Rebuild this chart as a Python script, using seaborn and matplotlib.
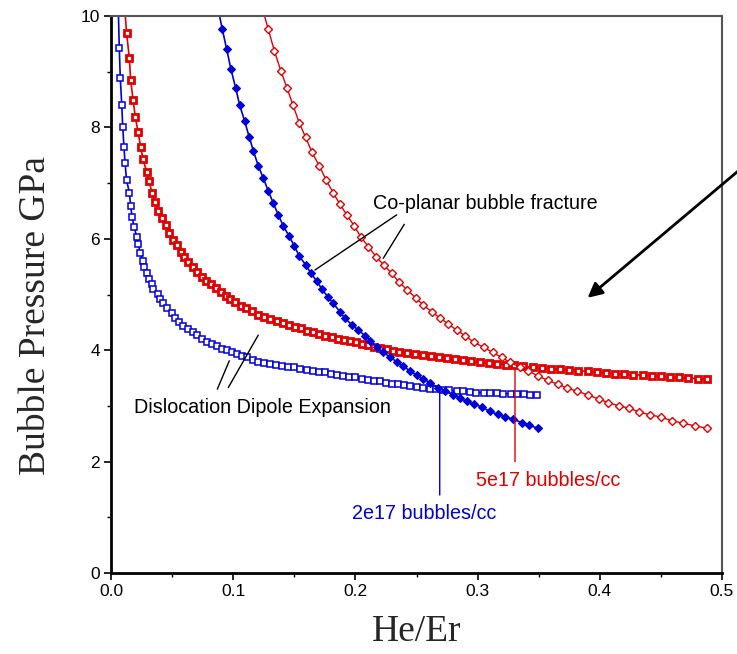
import matplotlib
matplotlib.use("Agg")
import matplotlib.pyplot as plt
import seaborn as sns
import pandas as pd
from matplotlib.ticker import MultipleLocator

# ---- data ----
# Dislocation dipole expansion, 2e17 bubbles/cc (blue open squares)
dd2_x = [0.0060, 0.0068, 0.0076, 0.0088, 0.0096, 0.0106, 0.0115, 0.0127, 0.0150, 0.0161,
         0.0172, 0.0188, 0.0210, 0.0221, 0.0240, 0.0259, 0.0273, 0.0292, 0.0311, 0.0333,
         0.0346, 0.0382, 0.0401, 0.0423, 0.0456, 0.0497, 0.0526, 0.0559, 0.0592, 0.0633,
         0.0669, 0.0701, 0.0742, 0.0783, 0.0824, 0.0865, 0.0906, 0.0947, 0.0988, 0.1029,
         0.1070, 0.1110, 0.1164, 0.1205,
         0.125, 0.130, 0.135, 0.140, 0.145, 0.150, 0.155, 0.160, 0.165, 0.170,
         0.175, 0.180, 0.185, 0.190, 0.195, 0.200, 0.205, 0.210, 0.215, 0.220,
         0.225, 0.230, 0.235, 0.240, 0.245, 0.250, 0.255,
         0.261, 0.266, 0.272, 0.277, 0.283, 0.288, 0.294, 0.299, 0.305, 0.310,
         0.316, 0.321, 0.327, 0.332, 0.338, 0.343, 0.349]
dd2_y = [10.1, 9.42, 8.88, 8.41, 8.01, 7.65, 7.36, 7.06, 6.83, 6.59,
         6.40, 6.22, 6.04, 5.91, 5.75, 5.61, 5.50, 5.39, 5.28, 5.19,
         5.10, 5.01, 4.92, 4.85, 4.75, 4.66, 4.57, 4.51, 4.43, 4.38,
         4.32, 4.27, 4.21, 4.15, 4.12, 4.08, 4.03, 4.00, 3.96, 3.93,
         3.90, 3.87, 3.82, 3.79,
         3.77, 3.75, 3.74, 3.72, 3.70, 3.69, 3.67, 3.65, 3.63, 3.61,
         3.60, 3.58, 3.56, 3.54, 3.52, 3.51, 3.49, 3.47, 3.45, 3.44,
         3.42, 3.40, 3.39, 3.37, 3.35, 3.34, 3.33,
         3.31, 3.30, 3.29, 3.28, 3.27, 3.26, 3.25, 3.24, 3.24, 3.23,
         3.23, 3.22, 3.22, 3.21, 3.21, 3.20, 3.19]

# Dislocation dipole expansion, 5e17 bubbles/cc (red squares)
dd5_x = [0.0108, 0.0128, 0.0150, 0.0161, 0.0180, 0.0199, 0.0221, 0.0243, 0.0262, 0.0292,
         0.0313, 0.0336, 0.0363, 0.0387, 0.0415, 0.0448, 0.0477, 0.0507, 0.0538, 0.0570,
         0.0597, 0.0630, 0.0669, 0.0704, 0.0742, 0.0780, 0.0816, 0.0857, 0.0898, 0.0939,
         0.0976, 0.1017, 0.1064, 0.1107, 0.1154, 0.1205, 0.1255, 0.1305, 0.1355, 0.1405,
         0.1455, 0.1505, 0.1555, 0.1605, 0.1655, 0.1705, 0.1755, 0.1805, 0.1855, 0.1905,
         0.1955, 0.2005, 0.2055, 0.2105, 0.2155, 0.2205, 0.2255, 0.2305, 0.2360, 0.2425,
         0.2490, 0.2555, 0.2620, 0.2685, 0.2750, 0.2815, 0.2880, 0.2950, 0.3020, 0.3090,
         0.3160, 0.3230, 0.3300, 0.3375, 0.3450, 0.3525, 0.3600, 0.3675, 0.3750, 0.3825,
         0.3900, 0.3975, 0.4050, 0.4125, 0.4200, 0.4275, 0.4350, 0.4425, 0.4500, 0.4575,
         0.4650, 0.4725, 0.4800, 0.4875]
dd5_y = [10.25, 9.69, 9.24, 8.85, 8.50, 8.19, 7.92, 7.65, 7.43, 7.20,
         7.03, 6.82, 6.66, 6.50, 6.37, 6.24, 6.11, 5.98, 5.88, 5.77,
         5.67, 5.59, 5.49, 5.41, 5.31, 5.25, 5.18, 5.12, 5.04, 4.98,
         4.92, 4.87, 4.80, 4.76, 4.71, 4.64, 4.60, 4.56, 4.52, 4.49,
         4.46, 4.42, 4.39, 4.35, 4.32, 4.29, 4.26, 4.24, 4.21, 4.18,
         4.16, 4.14, 4.11, 4.09, 4.06, 4.04, 4.02, 3.99, 3.97, 3.95,
         3.93, 3.91, 3.89, 3.87, 3.86, 3.84, 3.82, 3.80, 3.79, 3.77,
         3.76, 3.74, 3.73, 3.71, 3.70, 3.68, 3.67, 3.66, 3.64, 3.63,
         3.62, 3.61, 3.59, 3.58, 3.57, 3.56, 3.55, 3.54, 3.53, 3.52,
         3.51, 3.50, 3.49, 3.48]

# Co-planar bubble fracture, 2e17 bubbles/cc (blue filled diamonds)
cp2_x = [0.0876, 0.0911, 0.0947, 0.0982, 0.1020, 0.1053, 0.1094, 0.1132, 0.1165, 0.1205,
         0.1246, 0.1287, 0.1328, 0.1369, 0.1410, 0.1457, 0.1500, 0.1541, 0.1593, 0.1637,
         0.1683, 0.1729, 0.1773, 0.1819, 0.1874, 0.1915, 0.1970, 0.2024, 0.2079, 0.2119,
         0.2174, 0.2228, 0.2283, 0.2338, 0.2392, 0.2447, 0.2502, 0.2556, 0.2610, 0.2673,
         0.2733, 0.2796, 0.2856, 0.2911, 0.2971, 0.3034, 0.3101, 0.3164, 0.3224, 0.3292,
         0.3361, 0.3423, 0.3492]
cp2_y = [10.13, 9.76, 9.40, 9.04, 8.71, 8.40, 8.11, 7.82, 7.58, 7.31,
         7.09, 6.86, 6.64, 6.43, 6.23, 6.05, 5.87, 5.69, 5.53, 5.38,
         5.24, 5.09, 4.96, 4.84, 4.69, 4.57, 4.46, 4.36, 4.26, 4.17,
         4.06, 3.96, 3.88, 3.79, 3.71, 3.63, 3.55, 3.48, 3.42, 3.33,
         3.27, 3.20, 3.14, 3.08, 3.03, 2.98, 2.90, 2.85, 2.80, 2.76,
         2.70, 2.65, 2.60]

# Co-planar bubble fracture, 5e17 bubbles/cc (red open diamonds)
cp5_x = [0.1240, 0.1287, 0.1336, 0.1389, 0.1440, 0.1489, 0.1541, 0.1593, 0.1645, 0.1705,
         0.1759, 0.1817, 0.1871, 0.1929, 0.1991, 0.2045, 0.2106, 0.2168, 0.2233, 0.2297,
         0.2358, 0.2425, 0.2493, 0.2556, 0.2624, 0.2692, 0.2760, 0.2829, 0.2897, 0.2971,
         0.3052, 0.3123, 0.3197, 0.3265, 0.3347, 0.3415, 0.3492, 0.3574, 0.3655, 0.3734,
         0.3816, 0.3901, 0.3993, 0.4070, 0.4157, 0.4239, 0.4324, 0.4411, 0.4501, 0.4593,
         0.4683, 0.4779, 0.4875]
cp5_y = [10.13, 9.76, 9.38, 9.02, 8.71, 8.40, 8.08, 7.82, 7.55, 7.31,
         7.06, 6.83, 6.63, 6.43, 6.23, 6.03, 5.86, 5.68, 5.53, 5.38,
         5.22, 5.08, 4.94, 4.81, 4.69, 4.58, 4.47, 4.36, 4.26, 4.14,
         4.05, 3.96, 3.87, 3.78, 3.70, 3.63, 3.54, 3.46, 3.39, 3.32,
         3.26, 3.20, 3.12, 3.06, 3.00, 2.96, 2.89, 2.84, 2.80, 2.73,
         2.69, 2.64, 2.60]

x_ticks = [0.0, 0.1, 0.2, 0.3, 0.4, 0.5]
x_ticklabels = ["0.0", "0.1", "0.2", "0.3", "0.4", "0.5"]
y_ticks = [0, 2, 4, 6, 8, 10]
y_ticklabels = ["0", "2", "4", "6", "8", "10"]

BLUE = "#0000d8"
RED = "#e00000"

sns.set_theme(style="white")
plt.rcParams["font.family"] = ["Liberation Sans", "DejaVu Sans"]

fig = plt.figure(figsize=(7.37, 6.54), dpi=100)
ax = fig.add_axes([111 / 737, 1 - 573 / 654, 611 / 737, 557 / 654])

series = [
    (dd2_x, dd2_y, BLUE, dict(marker="s", markersize=4.8, markerfacecolor="white",
                              markeredgecolor=BLUE, markeredgewidth=1.1, linewidth=1.2)),
    (dd5_x, dd5_y, RED, dict(marker="s", markersize=4.1, markerfacecolor="white",
                             markeredgecolor=RED, markeredgewidth=2.0, linewidth=1.2)),
    (cp2_x, cp2_y, BLUE, dict(marker="D", markersize=4.0, markerfacecolor=BLUE,
                              markeredgecolor=BLUE, markeredgewidth=0.8, linewidth=1.2)),
    (cp5_x, cp5_y, RED, dict(marker="D", markersize=4.2, markerfacecolor="white",
                             markeredgecolor=RED, markeredgewidth=1.0, linewidth=1.0)),
]
for xs, ys, col, kw in series:
    df = pd.DataFrame({"x": xs, "y": ys})
    sns.lineplot(data=df, x="x", y="y", color=col, estimator=None, sort=False,
                 ax=ax, legend=False, **kw)

ax.set_xlim(0, 0.5)
ax.set_ylim(0, 10)
ax.set_xticks(x_ticks)
ax.set_xticklabels(x_ticklabels)
ax.set_yticks(y_ticks)
ax.set_yticklabels(y_ticklabels)
ax.xaxis.set_minor_locator(MultipleLocator(0.05))
ax.yaxis.set_minor_locator(MultipleLocator(1))
ax.tick_params(axis="both", which="major", direction="out", length=5, width=1.2,
               colors="black", labelsize=12.5, pad=3, bottom=True, left=True)
ax.tick_params(axis="both", which="minor", direction="out", length=3, width=1.0,
               colors="black", bottom=True, left=True)

for side in ["left", "bottom"]:
    ax.spines[side].set_color("black")
    ax.spines[side].set_linewidth(2.0)
for side in ["top", "right"]:
    ax.spines[side].set_color("#555555")
    ax.spines[side].set_linewidth(1.5)

ax.set_xlabel("He/Er", family=["Liberation Serif"], fontsize=27)
ax.set_ylabel("Bubble Pressure GPa", family=["Liberation Serif"], fontsize=27)
ax.xaxis.set_label_coords(0.5, -0.075)
ax.yaxis.set_label_coords(-0.095, 0.463)

# annotations
txt_kw = dict(fontsize=14.2, ha="center", va="center")
ax.text(0.306, 6.64, "Co-planar bubble fracture", color="black", **txt_kw)
ax.text(0.124, 2.98, "Dislocation Dipole Expansion", color="black", **txt_kw)
ax.text(0.256, 1.06, "2e17 bubbles/cc", color=BLUE, **txt_kw)
ax.text(0.358, 1.66, "5e17 bubbles/cc", color=RED, **txt_kw)

line_kw = dict(arrowstyle="-", lw=1.0, color="black", shrinkA=0, shrinkB=0)
ax.annotate("", xy=(0.1669, 5.44), xytext=(0.2338, 6.43), arrowprops=line_kw)
ax.annotate("", xy=(0.2228, 5.65), xytext=(0.2400, 6.26), arrowprops=line_kw)
ax.annotate("", xy=(0.0968, 3.81), xytext=(0.0870, 3.30), arrowprops=line_kw)
ax.annotate("", xy=(0.1205, 4.27), xytext=(0.0960, 3.33), arrowprops=line_kw)

ax.annotate("", xy=(0.269, 3.24), xytext=(0.269, 1.40),
            arrowprops=dict(arrowstyle="-", lw=1.0, color=BLUE, shrinkA=0, shrinkB=0))
ax.annotate("", xy=(0.3306, 3.68), xytext=(0.3306, 2.00),
            arrowprops=dict(arrowstyle="-", lw=1.0, color=RED, shrinkA=0, shrinkB=0))

ax.annotate("", xy=(0.390, 4.94), xytext=(0.515, 7.25), annotation_clip=False,
            arrowprops=dict(arrowstyle="-|>", lw=2.0, color="black",
                            mutation_scale=22, shrinkA=0, shrinkB=0))

fig.savefig("out.png", dpi=100)
